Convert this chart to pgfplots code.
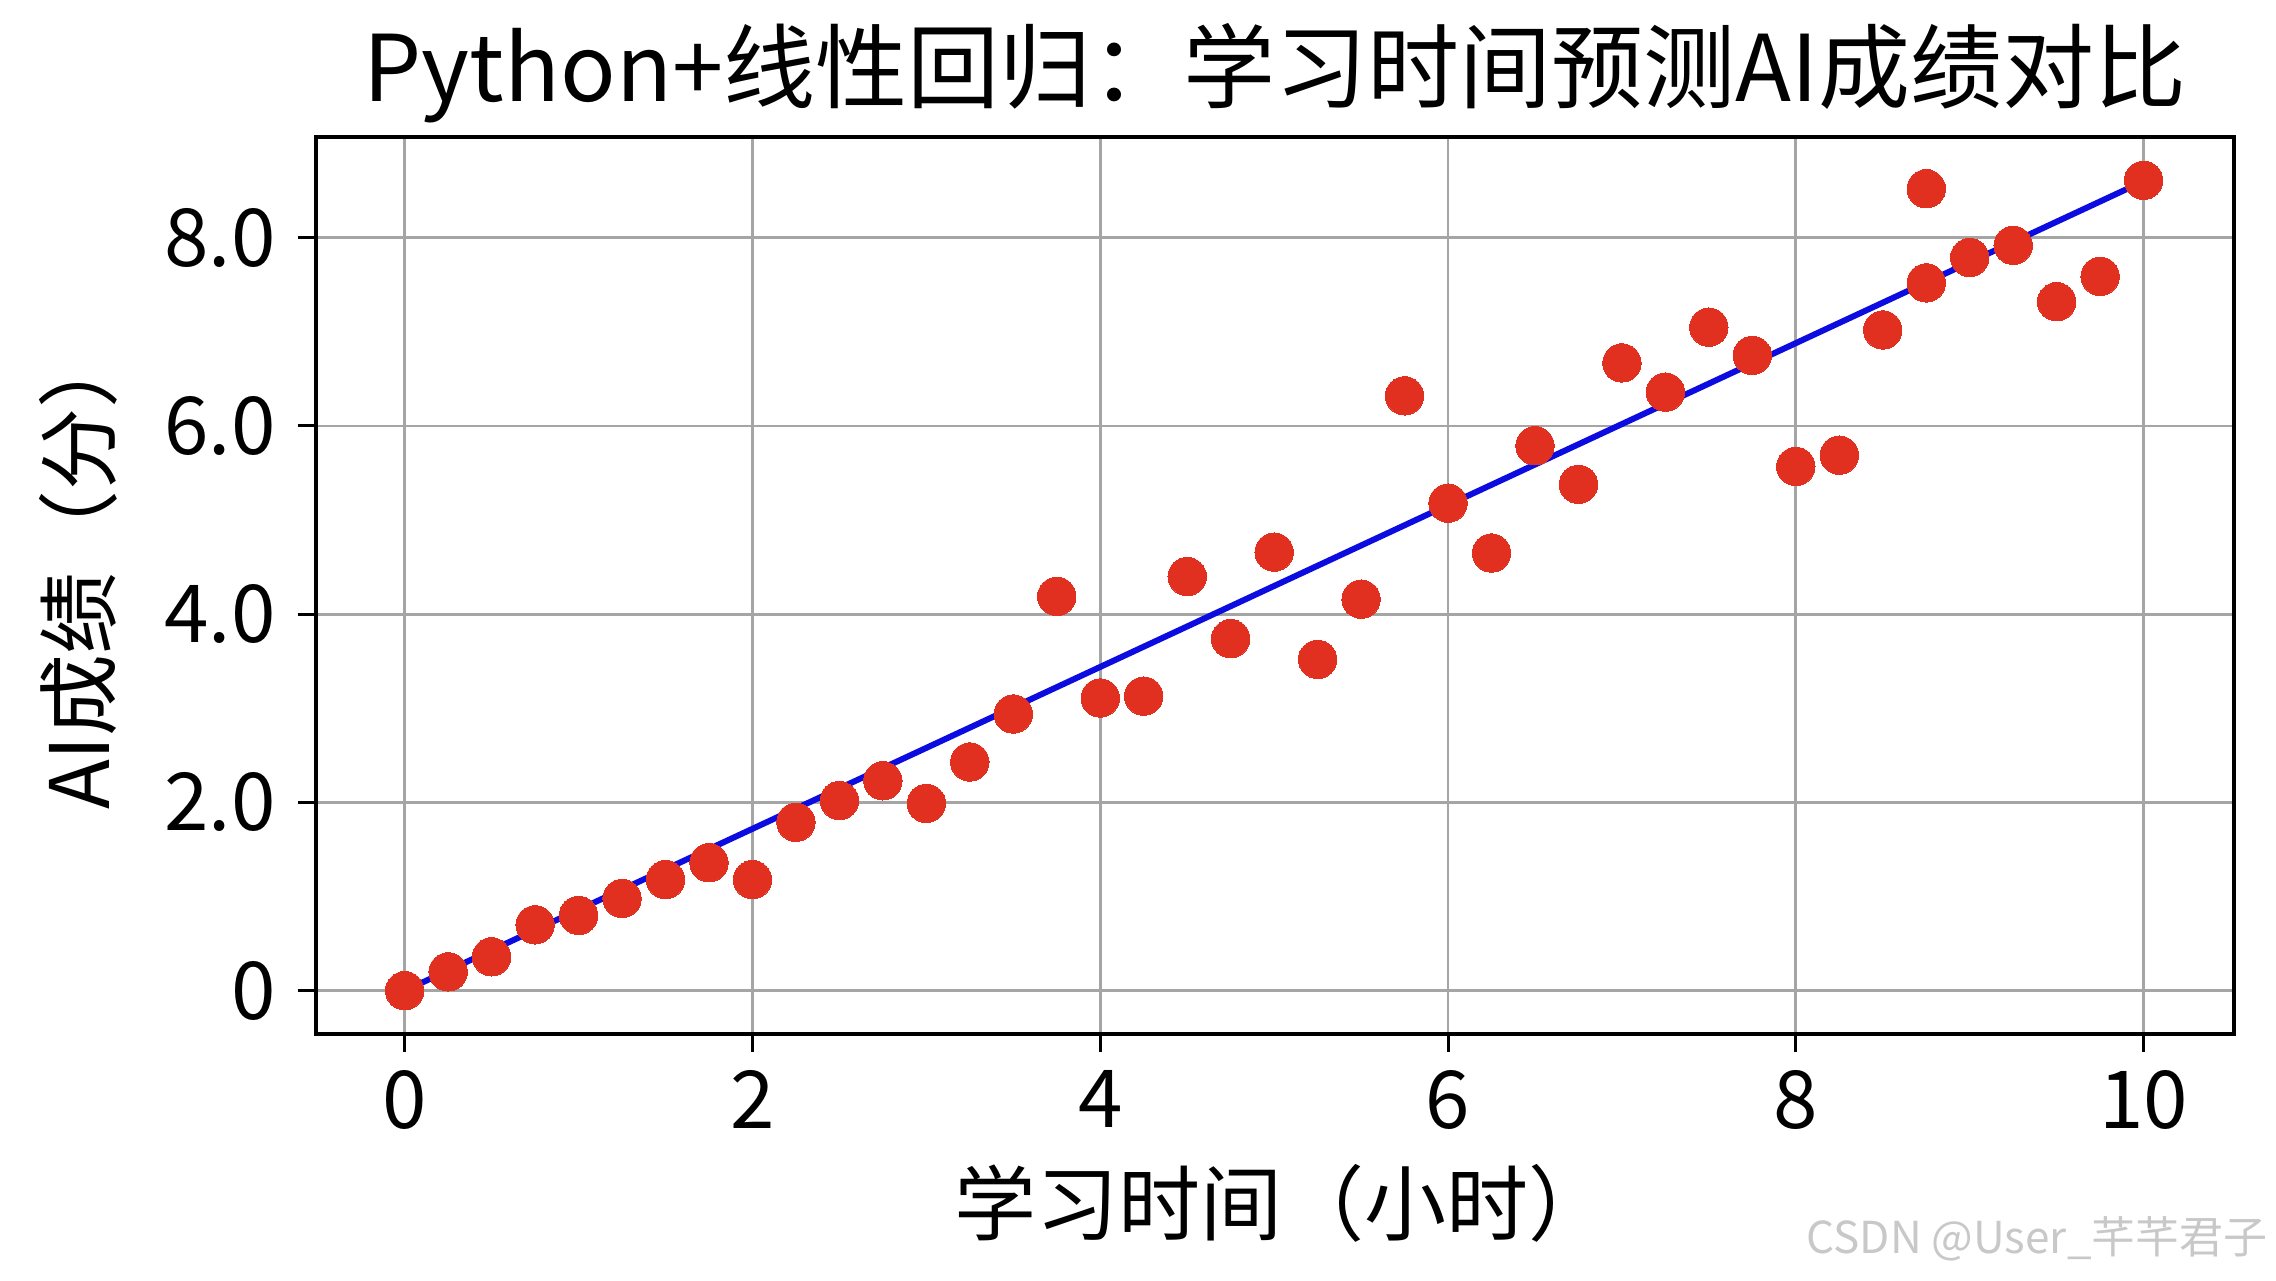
\documentclass[border=0pt]{standalone}
\usepackage{fontspec}
\setmainfont{Noto Sans CJK SC}
\usepackage{pgfplots}
\pgfplotsset{compat=1.18}
\definecolor{ptred}{RGB}{226,48,32}
\definecolor{lnblue}{RGB}{12,12,225}
\definecolor{gridgray}{RGB}{165,165,165}
\definecolor{wmgray}{RGB}{200,200,200}
\newcommand{\tickfont}{\fontsize{40pt}{46pt}\selectfont}
\newcommand{\labfont}{\fontsize{41pt}{48pt}\selectfont}
\newcommand{\titfont}{\fontsize{46pt}{55pt}\selectfont}
\pgfplotstableread{
x y
0 0
0.25 0.20
0.5 0.36
0.75 0.70
1.0 0.80
1.25 0.98
1.5 1.18
1.75 1.36
2.0 1.18
2.25 1.79
2.5 2.02
2.75 2.23
3.0 1.99
3.25 2.43
3.5 2.94
3.75 4.19
4.0 3.11
4.25 3.13
4.5 4.40
4.75 3.74
5.0 4.66
5.25 3.52
5.5 4.16
5.75 6.32
6.0 5.18
6.25 4.65
6.5 5.79
6.75 5.38
7.0 6.67
7.25 6.36
7.5 7.05
7.75 6.75
8.0 5.57
8.25 5.69
8.5 7.02
8.75 8.52
8.75 7.52
9.0 7.79
9.25 7.92
9.5 7.32
9.75 7.59
10 8.61
}\scores
\begin{document}
\begin{tikzpicture}
\path[use as bounding box] (-158pt,-123pt) rectangle (980pt,517pt);
\begin{axis}[
  at={(0pt,0pt)}, anchor=south west,
  scale only axis, width=959pt, height=448.5pt,
  xmin=-0.51, xmax=10.52, ymin=-0.46, ymax=9.07,
  xtick={0,2,4,6,8,10}, xticklabels={0,2,4,6,8,10},
  ytick={0,2,4,6,8}, yticklabels={0,2.0,4.0,6.0,8.0},
  grid=major, major grid style={gridgray, line width=1.4pt},
  axis line style={black, line width=1.7pt},
  tick align=outside, major tick length=9pt,
  tick style={black, line width=1.5pt},
  xtick pos=bottom, ytick pos=left,
  ticklabel style={font=\tickfont, inner sep=0pt},
  xticklabel style={yshift=-9pt},
  yticklabel style={xshift=-11pt},
]
\addplot[only marks, color=ptred, mark=*, mark size=9.6pt, mark options={draw=ptred, fill=ptred, line width=0pt}] table[x=x, y=y] {\scores};
\addplot[lnblue, line width=3pt] coordinates {(0,0) (10,8.6)};
\end{axis}
\node[anchor=base, font=\titfont] at (479.5pt,466pt) {Python+线性回归：学习时间预测AI成绩对比};
\node[anchor=center, font=\labfont] at (483pt,-84.5pt) {学习时间（小时）};
\node[anchor=center, rotate=90, font=\labfont] at (-119pt,233pt) {AI成绩（分）};
\node[anchor=base east, font=\fontsize{22pt}{26pt}\selectfont, text=wmgray, inner sep=0pt] at (976pt,-109.5pt) {CSDN @User\_芊芊君子};
\end{tikzpicture}
\end{document}
